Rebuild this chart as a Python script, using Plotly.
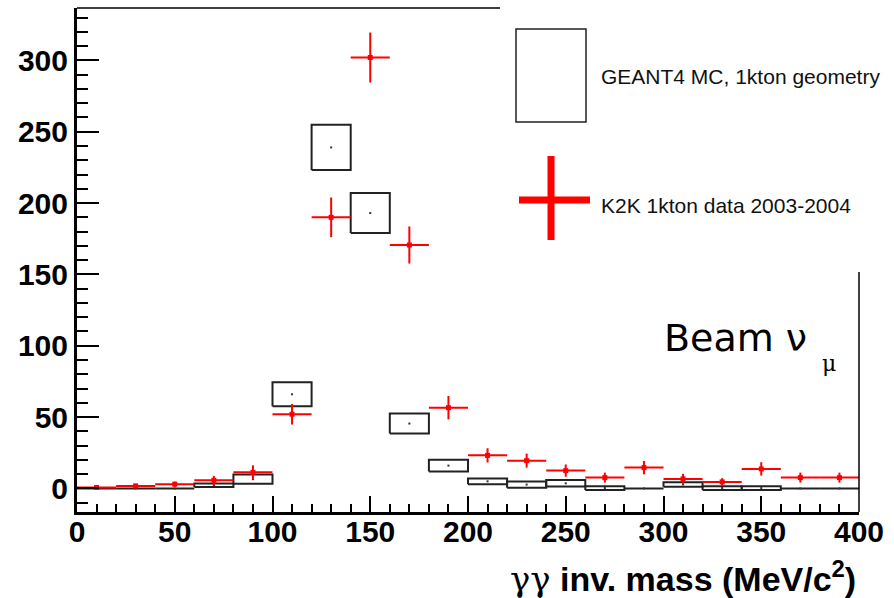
import plotly.graph_objects as go

# ---------------- data ----------------
bin_edges_lo = [0, 20, 40, 60, 80, 100, 120, 140, 160, 180, 200, 220, 240, 260, 280, 300, 320, 340, 360, 380]
bin_width = 20
mc_val = [0, 0, 0, 2.3, 6.5, 66, 239, 193, 45.5, 16, 5, 2.7, 3.6, 0.3, 0, 2.8, 0.3, 0.3, 0, 0]
mc_err = [0, 0, 0, 1.2, 3.2, 8.4, 15.8, 14, 7, 4.2, 2, 2.2, 2.3, 1.3, 0, 1.6, 1.3, 1.3, 0, 0]

data_x = [10, 30, 50, 70, 90, 110, 130, 150, 170, 190, 210, 230, 250, 270, 290, 310, 330, 350, 370, 390]
data_val = [0.7, 1.8, 3, 5.7, 11.3, 52, 190, 302, 170.6, 56.6, 23.2, 19.5, 12.5, 7.6, 14.6, 6.7, 4.6, 13.7, 7.6, 7.6]
data_err = [1.0, 1.4, 1.8, 3.1, 4.9, 7.2, 13.9, 17.5, 13, 8.2, 5, 4.9, 4.3, 3.5, 4.7, 3.5, 2.6, 4.7, 3.5, 3.5]
data_xerr = 10

x_range = [0, 400]
y_range = [-16.5, 336.7]
x_ticks = [0, 50, 100, 150, 200, 250, 300, 350, 400]
y_ticks = [0, 50, 100, 150, 200, 250, 300]

legend_mc = "GEANT4 MC, 1kton geometry"
legend_data = "K2K 1kton data 2003-2004"
x_title = "<span style='font-family:DejaVu Serif;font-weight:normal'>γγ</span> inv. mass (MeV/c<sup>2</sup>)"

# ---------------- layout geometry ----------------
W, H = 894, 598
L, R, T, B = 77, 859, 8, 512


def px2paper_x(px):
    return (px - L) / (R - L)


def px2paper_y(py):
    return (B - py) / (B - T)


fig = go.Figure()

# MC boxes (E2 style)
bx, by = [], []
for lo, v, e in zip(bin_edges_lo, mc_val, mc_err):
    hi = lo + bin_width
    bx += [lo, hi, hi, lo, lo, None]
    by += [v - e, v - e, v + e, v + e, v - e, None]
fig.add_trace(go.Scatter(x=bx, y=by, mode="lines", line=dict(color="#222222", width=2),
                         hoverinfo="skip", showlegend=False))
fig.add_trace(go.Scatter(x=[lo + bin_width / 2 for lo in bin_edges_lo], y=mc_val, mode="markers",
                         marker=dict(color="#333333", size=2, symbol="square"),
                         showlegend=False))

# Data crosses
fig.add_trace(go.Scatter(
    x=data_x, y=data_val, mode="markers",
    marker=dict(color="#ff0000", size=5, symbol="square"),
    error_x=dict(type="constant", value=data_xerr, color="#ff0000", thickness=2, width=0),
    error_y=dict(type="data", array=data_err, color="#ff0000", thickness=2, width=0),
    showlegend=False))

tickfont = dict(family="Liberation Sans, Arial", size=30, color="black", weight="bold")

fig.update_layout(
    width=W, height=H,
    margin=dict(l=L, r=W - R, t=T, b=H - B),
    paper_bgcolor="white", plot_bgcolor="white",
    showlegend=False,
    xaxis=dict(range=x_range, tickvals=x_ticks, ticks="inside", ticklen=16, tickwidth=2,
               tickcolor="black", showgrid=False, zeroline=False,
               showline=True, linecolor="black", linewidth=3,
               tickfont=tickfont, ticklabelstandoff=-9,
               minor=dict(dtick=10, ticks="inside", ticklen=8, tickwidth=2, tickcolor="black", showgrid=False)),
    yaxis=dict(range=y_range, tickvals=y_ticks, ticks="inside", ticklen=22, tickwidth=2,
               tickcolor="black", showgrid=False, zeroline=False,
               showline=True, linecolor="black", linewidth=3,
               tickfont=tickfont, ticklabelstandoff=0,
               minor=dict(tick0=0, dtick=10, ticks="inside", ticklen=11, tickwidth=2, tickcolor="black", showgrid=False)),
)

shapes = []
# partial frame: top and right
shapes.append(dict(type="line", xref="paper", yref="paper", x0=0, x1=px2paper_x(500), y0=1, y1=1,
                   line=dict(color="black", width=1.5)))
shapes.append(dict(type="line", xref="paper", yref="paper", x0=1, x1=1, y0=0, y1=px2paper_y(272),
                   line=dict(color="black", width=1.5)))
# legend symbols
shapes.append(dict(type="rect", xref="paper", yref="paper",
                   x0=px2paper_x(516), x1=px2paper_x(586), y0=px2paper_y(122), y1=px2paper_y(29),
                   line=dict(color="#222222", width=1.5), fillcolor="rgba(0,0,0,0)"))
shapes.append(dict(type="line", xref="paper", yref="paper",
                   x0=px2paper_x(519), x1=px2paper_x(590), y0=px2paper_y(200), y1=px2paper_y(200),
                   line=dict(color="#ff0000", width=7)))
shapes.append(dict(type="line", xref="paper", yref="paper",
                   x0=px2paper_x(551), x1=px2paper_x(551), y0=px2paper_y(156), y1=px2paper_y(240),
                   line=dict(color="#ff0000", width=7)))
fig.update_layout(shapes=shapes)

ann = []
ann.append(dict(xref="paper", yref="paper", x=px2paper_x(599), y=px2paper_y(77), xanchor="left", yanchor="middle",
                text=legend_mc, showarrow=False,
                font=dict(family="Liberation Sans, Arial", size=21, color="#111111")))
ann.append(dict(xref="paper", yref="paper", x=px2paper_x(599), y=px2paper_y(205), xanchor="left", yanchor="middle",
                text=legend_data, showarrow=False,
                font=dict(family="Liberation Sans, Arial", size=21, color="#111111")))
ann.append(dict(xref="paper", yref="paper", x=px2paper_x(662), y=px2paper_y(338), xanchor="left", yanchor="middle",
                text="Beam ν", showarrow=False,
                font=dict(family="DejaVu Sans", size=38, color="black")))
ann.append(dict(xref="paper", yref="paper", x=px2paper_x(829), y=px2paper_y(364), xanchor="center", yanchor="middle",
                text="μ", showarrow=False,
                font=dict(family="DejaVu Serif", size=22, color="black")))
ann.append(dict(xref="paper", yref="paper", x=px2paper_x(858), y=px2paper_y(577), xanchor="right", yanchor="middle",
                text=x_title, showarrow=False,
                font=dict(family="Liberation Sans, Arial", size=34, color="black", weight="bold")))
fig.update_layout(annotations=ann)

fig.write_html("out.html")
